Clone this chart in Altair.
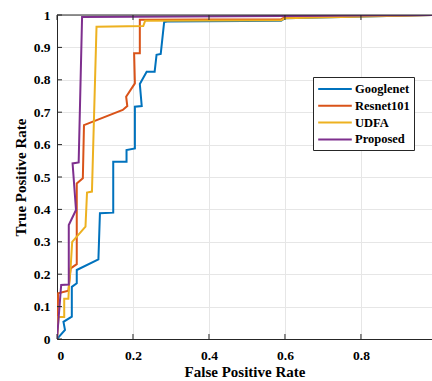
import altair as alt
import pandas as pd

# ROC curves (false positive rate, true positive rate) for each model
model_names = ["Googlenet", "Resnet101", "UDFA", "Proposed"]
model_colors = ["#0072BD", "#D95319", "#EDB120", "#7E2F8E"]

googlenet_fpr = [0, 0.021, 0.017, 0.039, 0.039, 0.052, 0.052, 0.109, 0.113, 0.148, 0.148,
                 0.183, 0.183, 0.205, 0.205, 0.223, 0.218, 0.236, 0.257, 0.262, 0.273,
                 0.282, 0.29, 0.59, 0.6, 1.0]
googlenet_tpr = [0, 0.028, 0.053, 0.069, 0.161, 0.172, 0.213, 0.246, 0.388, 0.39, 0.547,
                 0.547, 0.583, 0.588, 0.717, 0.719, 0.787, 0.825, 0.825, 0.877, 0.88,
                 0.978, 0.98, 0.982, 0.99, 1.0]

resnet_fpr = [0, 0.003, 0.03, 0.036, 0.052, 0.052, 0.068, 0.071, 0.173, 0.185, 0.182,
              0.205, 0.203, 0.218, 0.218, 0.59, 0.6, 1.0]
resnet_tpr = [0, 0.141, 0.149, 0.218, 0.231, 0.48, 0.496, 0.66, 0.707, 0.719, 0.748,
              0.789, 0.882, 0.882, 0.985, 0.987, 0.993, 1.0]

udfa_fpr = [0, 0.004, 0.019, 0.019, 0.03, 0.032, 0.036, 0.04, 0.075, 0.079, 0.092,
            0.104, 0.227, 0.232, 0.59, 0.6, 1.0]
udfa_tpr = [0, 0.068, 0.068, 0.124, 0.124, 0.172, 0.223, 0.3, 0.347, 0.452, 0.455,
            0.964, 0.966, 0.982, 0.984, 0.99, 1.0]

proposed_fpr = [0, 0.011, 0.031, 0.031, 0.05, 0.041, 0.057, 0.066, 0.6, 1.0]
proposed_tpr = [0, 0.167, 0.168, 0.352, 0.398, 0.542, 0.545, 0.994, 0.997, 1.0]

x_ticks = [0, 0.2, 0.4, 0.6, 0.8]
y_ticks = [0, 0.1, 0.2, 0.3, 0.4, 0.5, 0.6, 0.7, 0.8, 0.9, 1.0]

curves = [
    ("Googlenet", googlenet_fpr, googlenet_tpr),
    ("Resnet101", resnet_fpr, resnet_tpr),
    ("UDFA", udfa_fpr, udfa_tpr),
    ("Proposed", proposed_fpr, proposed_tpr),
]
rows = []
for name, xs, ys in curves:
    for i, (fx, ty) in enumerate(zip(xs, ys)):
        rows.append({"model": name, "fpr": fx, "tpr": ty, "step": i})
df = pd.DataFrame(rows)

FONT = "Liberation Serif"
INK = "#262626"
W, H = 375, 324

x_scale = alt.Scale(domain=[0, 0.987], nice=False, zero=False)
y_scale = alt.Scale(domain=[0, 1], nice=False)
x_axis = alt.Axis(values=x_ticks, format="~g", title="False Positive Rate",
                  labelPadding=9, titlePadding=3)
y_axis = alt.Axis(values=y_ticks, format=".1~f", title="True Positive Rate",
                  labelPadding=7, titlePadding=5)

lines = alt.Chart(df).mark_line(strokeWidth=2, clip=True).encode(
    x=alt.X("fpr:Q", scale=x_scale, axis=x_axis),
    y=alt.Y("tpr:Q", scale=y_scale, axis=y_axis),
    color=alt.Color("model:N",
                    scale=alt.Scale(domain=model_names, range=model_colors),
                    sort=model_names,
                    legend=alt.Legend(title=None, orient="none", legendX=256, legendY=62,
                                      fillColor="white", strokeColor=INK, padding=4,
                                      symbolType="M-2.4,0H2.4", symbolSize=196,
                                      symbolStrokeWidth=2, symbolOffset=10,
                                      labelOffset=12, rowPadding=1.8,
                                      labelFont=FONT, labelFontSize=12.5,
                                      labelFontWeight="bold", labelColor="black")),
    order="step:Q",
)

# inward tick marks on the bottom, top and left edges
tick_x = pd.DataFrame({"fpr": x_ticks})
tick_y = pd.DataFrame({"tpr": y_ticks})
bottom_ticks = alt.Chart(tick_x).mark_rule(color=INK, strokeWidth=1).encode(
    x=alt.X("fpr:Q", scale=x_scale, axis=x_axis), y=alt.value(H), y2=alt.value(H - 5))
top_ticks = alt.Chart(tick_x).mark_rule(color=INK, strokeWidth=1).encode(
    x=alt.X("fpr:Q", scale=x_scale, axis=x_axis), y=alt.value(0), y2=alt.value(5))
left_ticks = alt.Chart(tick_y).mark_rule(color=INK, strokeWidth=1).encode(
    y=alt.Y("tpr:Q", scale=y_scale, axis=y_axis), x=alt.value(0), x2=alt.value(5))
top_border = alt.Chart(pd.DataFrame({"v": [0]})).mark_rule(color=INK, strokeWidth=1).encode(
    x=alt.value(0), x2=alt.value(W), y=alt.value(0))

chart = alt.layer(lines, bottom_ticks, top_ticks, left_ticks, top_border).properties(
    width=W, height=H,
    padding={"left": 57, "top": 15, "right": 0, "bottom": 42},
    autosize=alt.AutoSizeParams(type="none"),
    background="white",
).configure_view(stroke=None).configure_axis(
    domainColor=INK, domainWidth=1, ticks=False,
    gridColor="#e6e6e6", gridWidth=1,
    labelFont=FONT, labelFontSize=13.5, labelFontWeight="bold", labelColor="black",
    titleFont=FONT, titleFontSize=15, titleFontWeight="bold", titleColor="black",
)

chart.save("out.html", embed_options={"renderer": "svg", "actions": False})
